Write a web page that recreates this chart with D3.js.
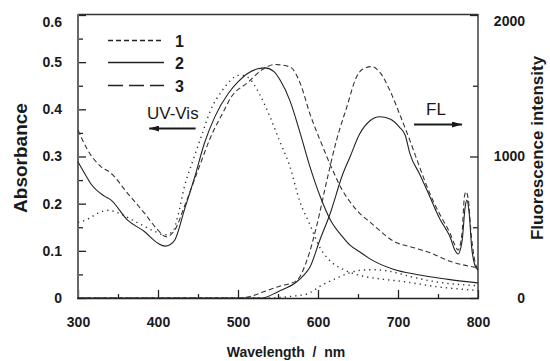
<!DOCTYPE html>
<html>
<head>
<meta charset="utf-8">
<script src="https://cdn.jsdelivr.net/npm/d3@7"></script>
<style>
  body { margin: 0; background: white; }
  text { font-family: "Liberation Sans", Arial, sans-serif; fill: #1a1a1a; }
</style>
</head>
<body>
<script>
// Absorbance / fluorescence spectra

// series 1 (dotted)
const abs1Wl = [300, 312, 325, 338, 352, 375, 396, 408, 418, 425, 433, 444, 454, 466, 479, 490, 500, 508, 515, 527, 540, 552, 565, 577, 590, 602, 615, 631, 652, 680, 706, 748, 800];
const abs1 = [0.160, 0.167, 0.180, 0.186, 0.179, 0.159, 0.141, 0.134, 0.140, 0.175, 0.236, 0.293, 0.342, 0.399, 0.437, 0.460, 0.472, 0.472, 0.464, 0.432, 0.384, 0.333, 0.278, 0.206, 0.155, 0.108, 0.079, 0.061, 0.048, 0.040, 0.035, 0.024, 0.016];
const fl1Wl = [300, 540, 555, 570, 586, 604, 627, 652, 670, 690, 720, 750, 800];
const fl1 = [0, 0, 5, 14, 28, 87, 150, 195, 200, 188, 145, 112, 87];

// series 2 (solid)
const abs2Wl = [300, 308, 317, 333, 341, 362, 383, 400, 409, 415, 421, 433, 446, 458, 471, 488, 500, 512, 525, 534, 545, 553, 565, 578, 590, 603, 615, 631, 640, 652, 665, 694, 723, 740, 765, 800];
const abs2 = [0.289, 0.265, 0.240, 0.216, 0.208, 0.165, 0.141, 0.116, 0.110, 0.113, 0.123, 0.187, 0.257, 0.328, 0.384, 0.434, 0.458, 0.476, 0.486, 0.488, 0.480, 0.461, 0.418, 0.348, 0.278, 0.214, 0.167, 0.129, 0.112, 0.098, 0.083, 0.061, 0.050, 0.045, 0.039, 0.032];
const fl2Wl = [300, 530, 550, 573, 582, 590, 602, 615, 631, 640, 652, 665, 677, 690, 702, 709, 715, 727, 740, 748, 753, 759, 765, 771, 775, 780, 784, 786, 789, 792, 796, 800];
const fl2 = [0, 0, 45, 113, 160, 219, 405, 594, 876, 997, 1159, 1253, 1281, 1265, 1206, 1150, 1018, 876, 714, 610, 551, 495, 433, 339, 311, 398, 645, 692, 598, 363, 233, 198];

// series 3 (dashed)
const abs3Wl = [300, 312, 329, 341, 362, 383, 400, 410, 421, 433, 450, 466, 483, 490, 513, 531, 546, 565, 578, 590, 603, 615, 631, 640, 653, 665, 694, 723, 740, 765, 800];
const abs3 = [0.356, 0.314, 0.278, 0.265, 0.222, 0.180, 0.144, 0.130, 0.144, 0.194, 0.271, 0.342, 0.399, 0.422, 0.458, 0.485, 0.495, 0.490, 0.454, 0.390, 0.333, 0.284, 0.227, 0.204, 0.178, 0.161, 0.121, 0.105, 0.096, 0.078, 0.064];
const fl3Wl = [300, 500, 515, 531, 550, 573, 586, 598, 611, 623, 636, 648, 656, 667, 677, 690, 702, 715, 727, 740, 752, 765, 771, 775, 780, 783, 785, 788, 791, 795, 800];
const fl3 = [0, 0, 10, 42, 80, 122, 264, 502, 829, 1112, 1350, 1560, 1618, 1635, 1597, 1465, 1300, 1112, 926, 735, 594, 457, 375, 339, 457, 716, 751, 692, 480, 292, 198];

// ticks
const wlTicks = [300, 400, 500, 600, 700, 800];
const wlMinor = [350, 450, 550, 650, 750];
const absTicks = [0, 0.1, 0.2, 0.3, 0.4, 0.5, 0.6];
const absMinor = [0.05, 0.15, 0.25, 0.35, 0.45, 0.55];
const flTicks = [0, 1000, 2000];
const flMinor = [500, 1500];
const legendLabels = ["1", "2", "3"];

let svg = d3.select("body")
  .append("svg")
  .attr("width", 550)
  .attr("height", 361);

let x = d3.scaleLinear().domain([300, 800]).range([78, 478]);
let yAbs = d3.scaleLinear().domain([0, 0.6]).range([298, 15]);
let yFl = d3.scaleLinear().domain([0, 2000]).range([298, 15]);

const styles = [
  { dash: "1.3,4", width: 1.4, color: "#333", legendDash: "5,3" },
  { dash: null, width: 1.1, color: "#222", legendDash: null },
  { dash: "5,3", width: 1.1, color: "#333", legendDash: "15,6" }
];

// axes
function styleAxis(g) {
  g.select(".domain").remove();
  g.selectAll("line").attr("stroke", "#222").attr("stroke-width", 1.3);
  g.selectAll("text")
    .style("font-size", "14px")
    .style("font-weight", "bold")
    .attr("fill", "#1a1a1a");
}

svg.append("g")
  .attr("transform", "translate(0,298)")
  .call(d3.axisBottom(x).tickValues(wlTicks).tickSize(-8).tickPadding(19).tickFormat(d3.format("d")))
  .call(styleAxis);
svg.append("g")
  .attr("transform", "translate(0,298)")
  .call(d3.axisBottom(x).tickValues(wlMinor).tickSize(-4).tickFormat(""))
  .call(styleAxis);

let leftAxis = svg.append("g")
  .attr("transform", "translate(78,0)")
  .call(d3.axisLeft(yAbs).tickValues(absTicks).tickSize(-8).tickPadding(16)
    .tickFormat(d => d === 0 ? "0" : d3.format(".1f")(d)))
  .call(styleAxis);
leftAxis.selectAll(".tick text").filter(d => d === 0.6).attr("dy", "0.85em");
svg.append("g")
  .attr("transform", "translate(78,0)")
  .call(d3.axisLeft(yAbs).tickValues(absMinor).tickSize(-5).tickFormat(""))
  .call(styleAxis);

let rightAxis = svg.append("g")
  .attr("transform", "translate(478,0)")
  .call(d3.axisRight(yFl).tickValues(flTicks).tickSize(-8).tickPadding(47).tickFormat(d3.format("d")))
  .call(styleAxis);
rightAxis.selectAll(".tick text").attr("text-anchor", "end");
rightAxis.selectAll(".tick text").filter(d => d === 2000).attr("dy", "0.75em");
svg.append("g")
  .attr("transform", "translate(478,0)")
  .call(d3.axisRight(yFl).tickValues(flMinor).tickSize(-5).tickFormat(""))
  .call(styleAxis);

// frame
svg.append("line")
  .attr("x1", 78).attr("x2", 478).attr("y1", 14.5).attr("y2", 14.5)
  .style("stroke", "#333").style("stroke-width", 1.4);
svg.append("line")
  .attr("x1", 478).attr("x2", 478).attr("y1", 14).attr("y2", 298)
  .style("stroke", "#333").style("stroke-width", 1.4);
svg.append("line")
  .attr("x1", 78).attr("x2", 78).attr("y1", 14).attr("y2", 298)
  .style("stroke", "#666").style("stroke-width", 2);

// curves
function drawCurve(wl, vals, yScale, st) {
  let line = d3.line()
    .x((d, i) => x(wl[i]))
    .y(d => yScale(d))
    .curve(d3.curveMonotoneX);
  svg.append("path")
    .datum(vals)
    .attr("d", line)
    .style("fill", "none")
    .style("stroke", st.color)
    .style("stroke-width", st.width)
    .style("stroke-dasharray", st.dash);
}

drawCurve(abs1Wl, abs1, yAbs, styles[0]);
drawCurve(fl1Wl, fl1, yFl, styles[0]);
drawCurve(abs2Wl, abs2, yAbs, styles[1]);
drawCurve(fl2Wl, fl2, yFl, styles[1]);
drawCurve(abs3Wl, abs3, yAbs, styles[2]);
drawCurve(fl3Wl, fl3, yFl, styles[2]);

svg.append("line")
  .attr("x1", 77).attr("x2", 479).attr("y1", 298.5).attr("y2", 298.5)
  .style("stroke", "#222").style("stroke-width", 1.6);

// legend
const legendY = [40.5, 62.5, 85.5];
legendLabels.forEach((lab, i) => {
  svg.append("line")
    .attr("x1", 108).attr("x2", 164)
    .attr("y1", legendY[i]).attr("y2", legendY[i])
    .style("stroke", "#222")
    .style("stroke-width", 1.6)
    .style("stroke-dasharray", styles[i].legendDash);
  svg.append("text")
    .attr("x", 175)
    .attr("y", legendY[i] + 6)
    .style("font-size", "16px")
    .style("font-weight", "bold")
    .text(lab);
});

// arrows
svg.append("defs").append("marker")
  .attr("id", "head")
  .attr("viewBox", "0 0 10 6")
  .attr("refX", 10).attr("refY", 3)
  .attr("markerWidth", 10).attr("markerHeight", 6)
  .attr("markerUnits", "userSpaceOnUse")
  .attr("orient", "auto")
  .append("path")
  .attr("d", "M0,0 L10,3 L0,6 Z")
  .style("fill", "#1a1a1a");

svg.append("line")
  .attr("x1", x(447)).attr("x2", x(389))
  .attr("y1", 128.5).attr("y2", 128.5)
  .style("stroke", "#1a1a1a").style("stroke-width", 2)
  .attr("marker-end", "url(#head)");
svg.append("text")
  .attr("x", 147).attr("y", 119)
  .style("font-size", "17px")
  .text("UV-Vis");

svg.append("line")
  .attr("x1", x(720)).attr("x2", x(780))
  .attr("y1", 124.5).attr("y2", 124.5)
  .style("stroke", "#1a1a1a").style("stroke-width", 2)
  .attr("marker-end", "url(#head)");
svg.append("text")
  .attr("x", 426).attr("y", 115)
  .style("font-size", "17px")
  .text("FL");

// axis titles
svg.append("text")
  .attr("x", 286).attr("y", 357)
  .attr("text-anchor", "middle")
  .style("font-size", "14px")
  .style("font-weight", "bold")
  .style("white-space", "pre")
  .text("Wavelength  /  nm");

svg.append("text")
  .attr("transform", "translate(27,158) rotate(-90)")
  .attr("text-anchor", "middle")
  .style("font-size", "19px")
  .style("font-weight", "bold")
  .text("Absorbance");

svg.append("text")
  .attr("transform", "translate(543,148) rotate(-90)")
  .attr("text-anchor", "middle")
  .style("font-size", "17px")
  .style("font-weight", "bold")
  .text("Fluorescence intensity");
</script>
</body>
</html>
